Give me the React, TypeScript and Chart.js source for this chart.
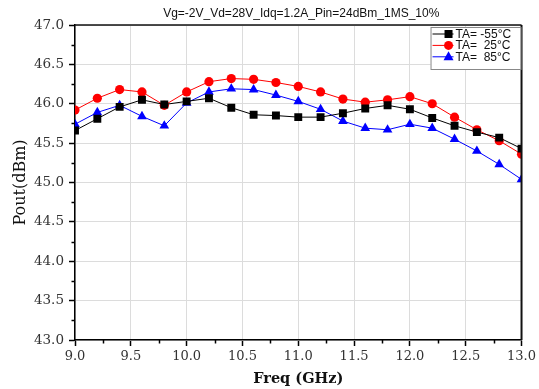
import React, { useEffect, useRef } from 'react';
import { Chart, registerables } from 'chart.js';

Chart.register(...registerables);

const freqGHz = [9.0, 9.2, 9.4, 9.6, 9.8, 10.0, 10.2, 10.4, 10.6, 10.8, 11.0, 11.2, 11.4, 11.6, 11.8, 12.0, 12.2, 12.4, 12.6, 12.8, 13.0];
const poutM55 = [45.66, 45.81, 45.96, 46.05, 45.99, 46.03, 46.07, 45.95, 45.86, 45.85, 45.83, 45.83, 45.88, 45.94, 45.98, 45.93, 45.82, 45.72, 45.64, 45.57, 45.43];
const pout25 = [45.92, 46.07, 46.18, 46.15, 45.98, 46.15, 46.28, 46.32, 46.31, 46.27, 46.22, 46.15, 46.06, 46.02, 46.05, 46.09, 46.00, 45.83, 45.67, 45.53, 45.36];
const pout85 = [45.74, 45.89, 45.98, 45.84, 45.72, 46.01, 46.15, 46.19, 46.18, 46.11, 46.03, 45.93, 45.78, 45.69, 45.67, 45.74, 45.69, 45.55, 45.40, 45.23, 45.04];
const seriesLabels = ['TA= -55°C', 'TA=  25°C', 'TA=  85°C'];
const seriesColors = ['#000000', '#ff0000', '#0000ff'];
const seriesMarkers = ['rect', 'circle', 'triangle'];
const chartTitle = 'Vg=-2V_Vd=28V_Idq=1.2A_Pin=24dBm_1MS_10%';
const xAxisTitle = 'Freq (GHz)';
const yAxisTitle = 'Pout(dBm)';
const xMin = 9.0, xMax = 13.0, xStep = 0.5;
const yMin = 43.0, yMax = 47.0, yStep = 0.5;

function drawMarker(ctx: CanvasRenderingContext2D, kind: string, x: number, y: number, color: string) {
  ctx.save();
  ctx.fillStyle = color;
  ctx.beginPath();
  if (kind === 'rect') {
    ctx.rect(x - 4, y - 4, 8, 8);
  } else if (kind === 'circle') {
    ctx.arc(x, y, 4.5, 0, Math.PI * 2);
  } else {
    ctx.moveTo(x, y - 5.5);
    ctx.lineTo(x + 5, y + 3.5);
    ctx.lineTo(x - 5, y + 3.5);
    ctx.closePath();
  }
  ctx.fill();
  ctx.restore();
}

const decorPlugin = {
  id: 'decor',
  afterDraw(chart: any) {
    const { ctx, chartArea } = chart;
    const { left, right, top, bottom } = chartArea;
    const xs = chart.scales.x;
    const ys = chart.scales.y;
    ctx.save();
    // minor ticks
    ctx.strokeStyle = '#000';
    ctx.lineWidth = 1.5;
    for (let v = xMin + xStep / 2; v < xMax; v += xStep) {
      const px = Math.round(xs.getPixelForValue(v)) + 0.5;
      ctx.beginPath();
      ctx.moveTo(px, bottom);
      ctx.lineTo(px, bottom + 3.5);
      ctx.stroke();
    }
    for (let v = yMin + yStep / 2; v < yMax; v += yStep) {
      const py = Math.round(ys.getPixelForValue(v)) + 0.5;
      ctx.beginPath();
      ctx.moveTo(left, py);
      ctx.lineTo(left - 3.5, py);
      ctx.stroke();
    }
    // frame
    ctx.strokeStyle = '#111';
    ctx.lineWidth = 1.5;
    ctx.beginPath();
    ctx.moveTo(left, top);
    ctx.lineTo(right, top);
    ctx.stroke();
    ctx.lineWidth = 2;
    ctx.beginPath();
    ctx.moveTo(right, top);
    ctx.lineTo(right, bottom);
    ctx.stroke();
    // title
    ctx.fillStyle = '#111';
    ctx.font = '12px "Liberation Sans", Arial, sans-serif';
    ctx.textAlign = 'center';
    ctx.textBaseline = 'middle';
    ctx.fillText(chartTitle, (left + right) / 2 + 3, 14);
    // legend
    const bx = right - 91, by = top + 2, bw = 90, bh = 42;
    ctx.fillStyle = '#fff';
    ctx.fillRect(bx, by, bw, bh);
    ctx.strokeStyle = '#888';
    ctx.lineWidth = 1;
    ctx.strokeRect(bx + 0.5, by + 0.5, bw, bh);
    ctx.font = '12px "Liberation Sans", Arial, sans-serif';
    ctx.textAlign = 'left';
    chart.data.datasets.forEach((ds: any, i: number) => {
      const ry = by + 7 + i * 11.4;
      const color = seriesColors[i];
      ctx.strokeStyle = color;
      ctx.lineWidth = 1;
      ctx.beginPath();
      ctx.moveTo(bx + 2, ry);
      ctx.lineTo(bx + 23, ry);
      ctx.stroke();
      drawMarker(ctx, seriesMarkers[i], bx + 18, ry, color);
      ctx.fillStyle = '#111';
      ctx.fillText(ds.label, bx + 25, ry + 0.5);
    });
    ctx.restore();
  },
};

export default function App() {
  const ref = useRef<HTMLCanvasElement | null>(null);
  useEffect(() => {
    document.body.style.margin = '0';
    if (!ref.current) return;
    const datasets = [poutM55, pout25, pout85].map((vals, i) => ({
      label: seriesLabels[i],
      data: freqGHz.map((f, j) => ({ x: f, y: vals[j] })),
      borderColor: seriesColors[i],
      backgroundColor: seriesColors[i],
      borderWidth: 1,
      pointStyle: seriesMarkers[i] as any,
      pointRadius: i === 0 ? 5.6 : i === 1 ? 4.6 : 5.6,
      pointBorderWidth: 0,
      tension: 0,
    }));
    const chart = new Chart(ref.current, {
      type: 'line',
      data: { datasets },
      plugins: [decorPlugin],
      options: {
        animation: false,
        responsive: false,
        maintainAspectRatio: false,
        layout: { padding: { top: 25, right: 16, left: 0, bottom: 0 } },
        plugins: { legend: { display: false }, title: { display: false }, tooltip: { enabled: false } },
        scales: {
          x: {
            type: 'linear',
            min: xMin,
            max: xMax,
            afterFit: (s: any) => { s.height = 49; },
            ticks: {
              stepSize: xStep,
              color: '#333',
              padding: 3,
              font: { family: '"DejaVu Serif", serif', size: 13 },
              callback: (v: any) => Number(v).toFixed(1),
            },
            grid: { color: '#dcdcdc', lineWidth: 1, tickColor: '#000', tickLength: 6, tickWidth: 1.5 },
            border: { color: '#000', width: 1.5 },
            title: {
              display: true,
              text: xAxisTitle,
              color: '#111',
              font: { family: '"DejaVu Serif", serif', size: 14.5, weight: 'bold' },
              padding: { top: 2, bottom: 1 },
            },
          },
          y: {
            type: 'linear',
            min: yMin,
            max: yMax,
            afterFit: (s: any) => { s.width = 75; },
            ticks: {
              stepSize: yStep,
              color: '#333',
              padding: 5,
              font: { family: '"DejaVu Serif", serif', size: 13.5 },
              callback: (v: any) => Number(v).toFixed(1),
            },
            grid: { color: '#dcdcdc', lineWidth: 1, tickColor: '#000', tickLength: 6, tickWidth: 1.5 },
            border: { color: '#000', width: 1.5 },
            title: {
              display: true,
              text: yAxisTitle,
              color: '#111',
              font: { family: '"DejaVu Serif", serif', size: 16 },
              padding: { top: 11, bottom: 0 },
            },
          },
        },
      },
    });
    return () => chart.destroy();
  }, []);
  return (
    <div style={{ width: 539, height: 389, background: '#fff' }}>
      <canvas ref={ref} width={539} height={389} style={{ display: 'block', width: 539, height: 389 }} />
    </div>
  );
}
